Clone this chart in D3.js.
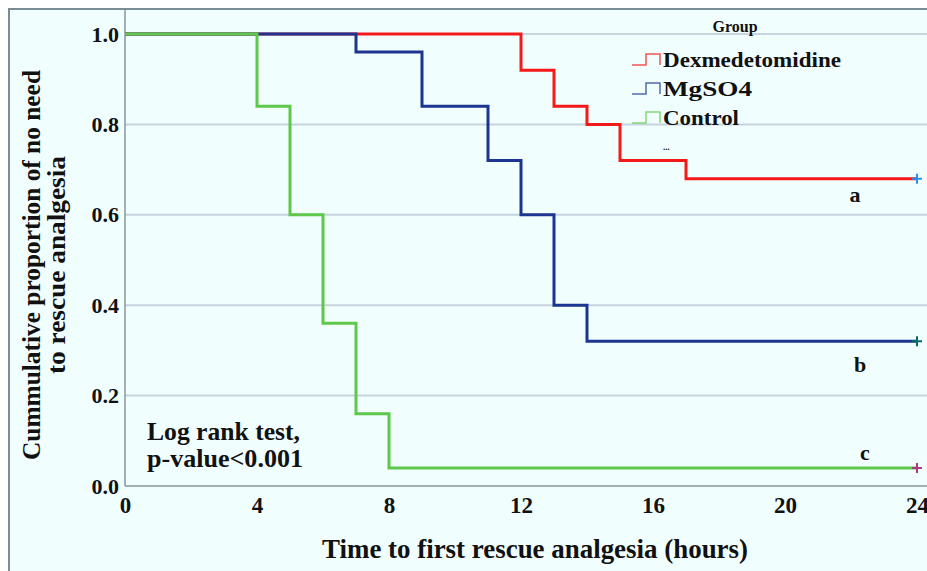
<!DOCTYPE html>
<html>
<head>
<meta charset="utf-8">
<script src="https://cdn.jsdelivr.net/npm/d3@7"></script>
<style>
  html, body { margin: 0; padding: 0; background: #fff; }
  svg { display: block; }
  text { font-family: "Liberation Serif", "DejaVu Serif", serif; font-weight: bold; fill: #111; }
</style>
</head>
<body>
<div id="chart"></div>
<script>
// Kaplan-Meier step data (time in hours, cumulative proportion)
const groups = ['Dexmedetomidine', 'MgSO4', 'Control'];
const dexTimes = [0, 12, 13, 14, 15, 17, 24];
const dexSurv = [1.0, 0.92, 0.84, 0.80, 0.72, 0.68, 0.68];
const mgTimes = [0, 7, 9, 11, 12, 13, 14, 24];
const mgSurv = [1.0, 0.96, 0.84, 0.72, 0.60, 0.40, 0.32, 0.32];
const ctlTimes = [0, 4, 5, 6, 7, 8, 24];
const ctlSurv = [1.0, 0.84, 0.60, 0.36, 0.16, 0.04, 0.04];
const groupLetters = ['a', 'b', 'c'];
const xTicks = [0, 4, 8, 12, 16, 20, 24];
const yTicks = [0, 0.2, 0.4, 0.6, 0.8, 1.0];

const width = 927, height = 571;
const lineColors = ['#f51a1a', '#1c3590', '#5ec84a'];
const censorColors = ['#2a90f0', '#0a6a6a', '#b03880'];

const svg = d3.select('#chart').append('svg')
  .attr('width', width).attr('height', height);

// frame + background
svg.append('rect').attr('x', 9).attr('y', 9)
  .attr('width', width).attr('height', height)
  .attr('fill', '#f1fefe').attr('stroke', '#7b8c95').attr('stroke-width', 2);

const x = d3.scaleLinear().domain([0, 24]).range([125, 917]);
const y = d3.scaleLinear().domain([0, 1]).range([486, 34]);

// gridlines
svg.append('g').selectAll('line')
  .data(yTicks.filter(d => d > 0))
  .join('line')
  .attr('x1', x(0)).attr('x2', width)
  .attr('y1', d => y(d)).attr('y2', d => y(d))
  .attr('stroke', '#c6d3e0').attr('stroke-width', 2);

// axis lines
svg.append('line').attr('x1', x(0)).attr('x2', x(0)).attr('y1', 10).attr('y2', y(0))
  .attr('stroke', '#8a949a').attr('stroke-width', 1.5);
svg.append('line').attr('x1', x(0)).attr('x2', width).attr('y1', y(0)).attr('y2', y(0))
  .attr('stroke', '#8a949a').attr('stroke-width', 1.5);

const xAxis = svg.append('g').attr('transform', `translate(0,${y(0)})`)
  .call(d3.axisBottom(x).tickValues(xTicks).tickSize(0).tickPadding(11).tickFormat(d3.format('d')));
xAxis.select('.domain').remove();
xAxis.selectAll('text').attr('font-size', 23).attr('fill', '#111')
  .attr('font-family', '"Liberation Serif", serif').attr('font-weight', 'bold');

const yAxis = svg.append('g').attr('transform', `translate(${x(0)},0)`)
  .call(d3.axisLeft(y).tickValues(yTicks).tickSize(0).tickPadding(6).tickFormat(d3.format('.1f')));
yAxis.select('.domain').remove();
yAxis.selectAll('text').attr('font-size', 22).attr('fill', '#111')
  .attr('font-family', '"Liberation Serif", serif').attr('font-weight', 'bold');

// curves
const series = [
  { name: groups[0], t: dexTimes, s: dexSurv },
  { name: groups[1], t: mgTimes, s: mgSurv },
  { name: groups[2], t: ctlTimes, s: ctlSurv },
].map(g => g.t.map((t, i) => ({ t, s: g.s[i] })));

const line = d3.line().x(d => x(d.t)).y(d => y(d.s)).curve(d3.curveStepAfter);

svg.append('g').selectAll('path')
  .data(series)
  .join('path')
  .attr('d', line)
  .attr('fill', 'none')
  .attr('stroke', (d, i) => lineColors[i])
  .attr('stroke-width', 3);

// censor marks at end
series.forEach((pts, i) => {
  const last = pts[pts.length - 1];
  const cx = x(last.t), cy = y(last.s);
  svg.append('path')
    .attr('d', `M${cx - 5},${cy}H${cx + 5}M${cx},${cy - 5}V${cy + 5}`)
    .attr('stroke', censorColors[i]).attr('stroke-width', 2);
});

// group letters
const letterPos = [[855, 202], [860, 372], [865, 460]];
svg.append('g').selectAll('text')
  .data(groupLetters)
  .join('text')
  .attr('x', (d, i) => letterPos[i][0]).attr('y', (d, i) => letterPos[i][1])
  .attr('text-anchor', 'middle').attr('font-size', 22)
  .text(d => d);

// legend
const legendWidths = [178, 89, 76];
svg.append('text').attr('x', 735).attr('y', 32).attr('text-anchor', 'middle')
  .attr('font-size', 16).text('Group');
const legend = svg.append('g').selectAll('g')
  .data(groups)
  .join('g')
  .attr('transform', (d, i) => `translate(632,${67 + i * 29})`);
legend.append('path')
  .attr('d', 'M0,-2H14V-13H28V-2')
  .attr('fill', 'none')
  .attr('stroke', (d, i) => lineColors[i])
  .attr('stroke-opacity', 0.75)
  .attr('stroke-width', 1.5);
legend.append('text')
  .attr('x', 31).attr('y', 0)
  .attr('font-size', 22)
  .attr('textLength', (d, i) => legendWidths[i]).attr('lengthAdjust', 'spacingAndGlyphs')
  .text(d => d);
svg.append('text').attr('x', 663).attr('y', 150).attr('font-size', 9)
  .attr('font-weight', 'normal').attr('fill', '#555').text('...');

// annotation
svg.append('text').attr('x', 147).attr('y', 440).attr('font-size', 26)
  .attr('textLength', 153).attr('lengthAdjust', 'spacingAndGlyphs').text('Log rank test,');
svg.append('text').attr('x', 147).attr('y', 467).attr('font-size', 26)
  .attr('textLength', 156).attr('lengthAdjust', 'spacingAndGlyphs').text('p-value<0.001');

// axis titles
svg.append('text').attr('x', 535).attr('y', 558).attr('text-anchor', 'middle')
  .attr('font-size', 28).attr('textLength', 426).attr('lengthAdjust', 'spacingAndGlyphs')
  .text('Time to first rescue analgesia (hours)');
const yTitle = svg.append('text').attr('transform', 'translate(40,265) rotate(-90)')
  .attr('text-anchor', 'middle').attr('font-size', 26);
yTitle.append('tspan').attr('x', 0).attr('dy', 0)
  .attr('textLength', 390).attr('lengthAdjust', 'spacingAndGlyphs')
  .text('Cummulative proportion of no need');
yTitle.append('tspan').attr('x', 0).attr('dy', 25)
  .attr('textLength', 218).attr('lengthAdjust', 'spacingAndGlyphs')
  .text('to rescue analgesia');
</script>
</body>
</html>
